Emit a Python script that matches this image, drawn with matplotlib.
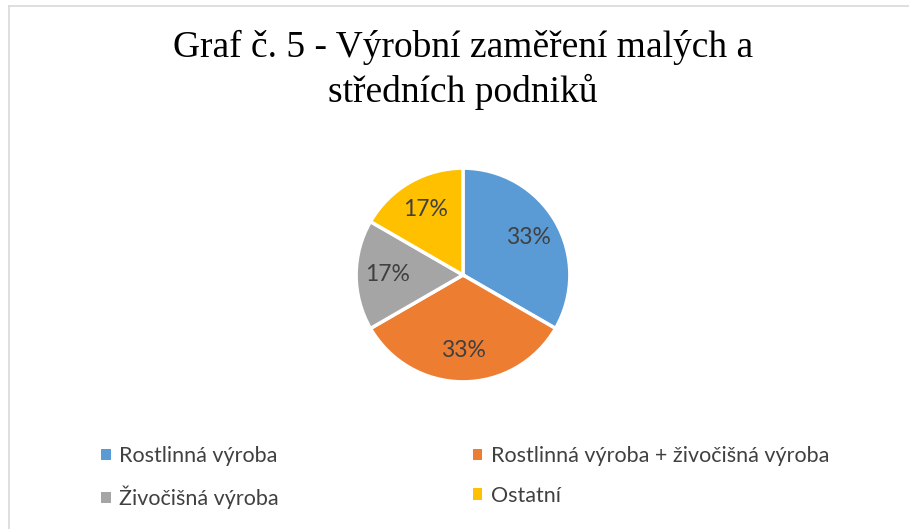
import matplotlib
matplotlib.use("Agg")
import matplotlib.pyplot as plt
from matplotlib.lines import Line2D
from matplotlib.patches import Patch

title = "Graf č. 5 - Výrobní zaměření malých a\nstředních podniků"
categories = ["Rostlinná výroba", "Rostlinná výroba + živočišná výroba",
              "Živočišná výroba", "Ostatní"]
values = [2, 2, 1, 1]
colors = ["#5b9bd5", "#ed7d31", "#a5a5a5", "#ffc000"]

W, H = 909, 529
fig = plt.figure(figsize=(W / 100, H / 100), dpi=100)
fig.patch.set_facecolor("white")

# chart-area border (top and left visible)
fig.add_artist(Line2D([9 / W, 9 / W], [0, 1 - 6 / H], transform=fig.transFigure,
                      color="#d9d9d9", lw=1.2))
fig.add_artist(Line2D([9 / W, 1], [1 - 6 / H, 1 - 6 / H], transform=fig.transFigure,
                      color="#d9d9d9", lw=1.2))

fig.text(463 / W, 1 - 70 / H, title, ha="center", va="center",
         fontsize=27, family="Liberation Serif", linespacing=1.32, color="black")

cx, cy, r = 463, 275, 109
ax = fig.add_axes([(cx - r) / W, 1 - (cy + r) / H, 2 * r / W, 2 * r / H])
wedges, texts, autotexts = ax.pie(
    values, colors=colors, startangle=90, counterclock=False,
    autopct="%.0f%%", pctdistance=0.71,
    wedgeprops=dict(edgecolor="white", linewidth=2.5),
    textprops=dict(color="#404040", fontsize=16.5, family="Lato"))
ax.set_aspect("equal")
ax.set_xlim(-1.02, 1.02)
ax.set_ylim(-1.02, 1.02)

# legend filled row by row (matplotlib fills column by column)
order = [0, 2, 1, 3]
handles = [Patch(facecolor=colors[i], edgecolor="none") for i in order]
labels = [categories[i] for i in order]
leg = fig.legend(handles, labels, ncol=2, loc="upper left",
                 bbox_to_anchor=(101 / W, 1 - 446 / H), frameon=False,
                 prop=dict(family="Lato", size=15.5),
                 handlelength=0.45, handleheight=0.45, handletextpad=0.4,
                 columnspacing=9.0, labelspacing=0.92, borderpad=0, borderaxespad=0)
for t in leg.get_texts():
    t.set_color("#404040")

fig.savefig("out.png", dpi=100, facecolor="white")
